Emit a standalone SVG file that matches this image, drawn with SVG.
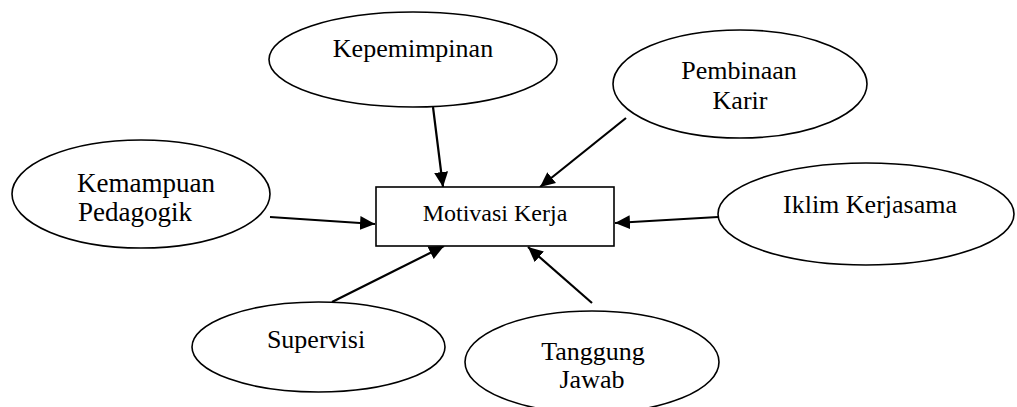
<svg xmlns="http://www.w3.org/2000/svg" width="1017" height="407" viewBox="0 0 1017 407">
<style>
.n ellipse, .n rect { fill: #fff; stroke: #000; stroke-width: 1.6; }
text { font-family: "Liberation Serif", "Times New Roman", serif; fill: #000; text-anchor: middle; }
.t { font-size: 26px; }
.k { font-size: 27px; }
.b { font-size: 24px; }
.c line { stroke: #000; stroke-width: 2.2; marker-end: url(#ah); }
</style>
<defs>
<marker id="ah" markerUnits="userSpaceOnUse" markerWidth="16" markerHeight="14" refX="15" refY="7" orient="auto">
<path d="M0,0 L15,7 L0,14 z" fill="#000"/>
</marker>
</defs>
<g class="c" id="connectors">
<line x1="433" y1="107" x2="443" y2="187"/>
<line x1="626" y1="118" x2="540" y2="187"/>
<line x1="270" y1="217" x2="375" y2="224"/>
<line x1="718" y1="217" x2="615" y2="223"/>
<line x1="332" y1="302" x2="444" y2="246"/>
<line x1="592" y1="303" x2="528" y2="247"/>
</g>
<g class="n" id="kepemimpinan">
<ellipse cx="413" cy="59.5" rx="144" ry="47.5"/>
<text class="t" x="413" y="57">Kepemimpinan</text>
</g>
<g class="n" id="pembinaan-karir">
<ellipse cx="740" cy="84" rx="127" ry="54"/>
<text class="t" x="739" y="79">Pembinaan</text>
<text class="t" x="740" y="109">Karir</text>
</g>
<g class="n" id="kemampuan-pedagogik">
<ellipse cx="141" cy="194" rx="129" ry="54"/>
<text class="k" x="146" y="192">Kemampuan</text>
<text class="k" x="135" y="221">Pedagogik</text>
</g>
<g class="n" id="motivasi-kerja">
<rect x="376" y="187" width="238" height="59"/>
<text class="b" x="495" y="221">Motivasi Kerja</text>
</g>
<g class="n" id="iklim-kerjasama">
<ellipse cx="866" cy="214" rx="148" ry="51"/>
<text class="t" x="870" y="213">Iklim Kerjasama</text>
</g>
<g class="n" id="supervisi">
<ellipse cx="318.5" cy="347" rx="126.5" ry="45"/>
<text class="t" x="316" y="348">Supervisi</text>
</g>
<g class="n" id="tanggung-jawab">
<ellipse cx="592" cy="362" rx="127" ry="51"/>
<text class="t" x="593" y="360">Tanggung</text>
<text class="t" x="592" y="388">Jawab</text>
</g>
</svg>
